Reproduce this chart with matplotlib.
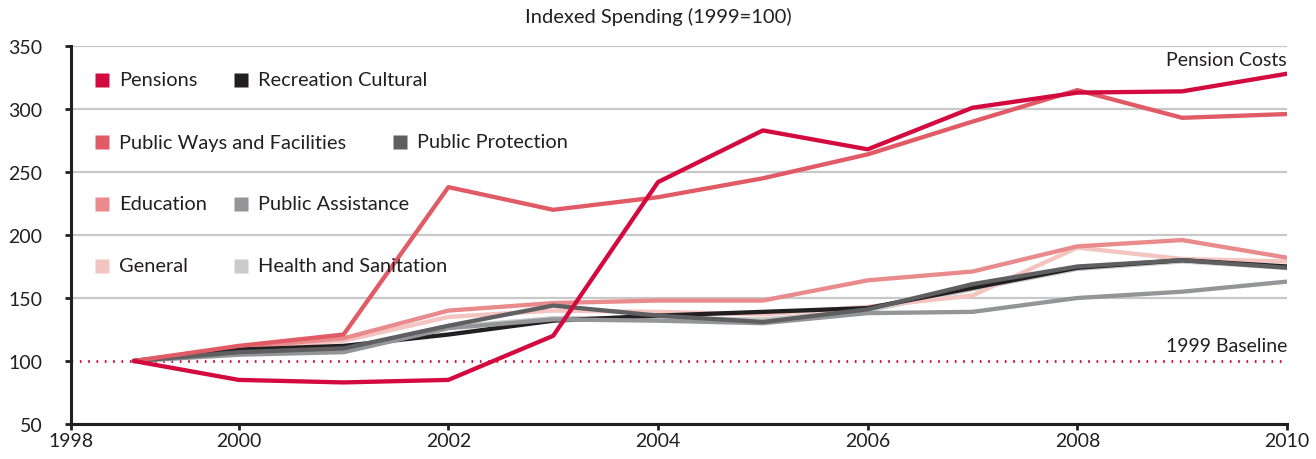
import numpy as np
import matplotlib
matplotlib.use('Agg')
import matplotlib.pyplot as plt

plt.rcParams['font.family'] = ['Lato', 'DejaVu Sans']

# indexed spending, 1999 = 100
years = np.arange(1999, 2011)
pensions = [100, 85, 83, 85, 120, 242, 283, 268, 301, 313, 314, 328]
public_ways = [100, 112, 121, 238, 220, 230, 245, 264, 290, 315, 293, 296]
education = [100, 111, 118, 140, 146, 148, 148, 164, 171, 191, 196, 182]
general = [100, 110, 116, 135, 140, 139, 137, 143, 152, 190, 181, 179]
recreation = [100, 109, 112, 121, 132, 136, 139, 142, 158, 174, 180, 175]
public_protection = [100, 107, 110, 128, 144, 136, 131, 141, 161, 175, 180, 174]
public_assistance = [100, 105, 107, 126, 133, 132, 130, 138, 139, 150, 155, 163]
health = [100, 106, 109, 127, 134, 134, 133, 140, 157, 173, 179, 174]

baseline = 100
ink = '#231F20'

series = [
    ('Pensions', pensions, '#D20A40'),
    ('Public Ways and Facilities', public_ways, '#E05B65'),
    ('Education', education, '#E98B8D'),
    ('General', general, '#F3C4C0'),
    ('Recreation Cultural', recreation, '#231F20'),
    ('Public Protection', public_protection, '#5F5F61'),
    ('Public Assistance', public_assistance, '#949598'),
    ('Health and Sanitation', health, '#CACACB'),
]

fig = plt.figure(figsize=(13.16, 4.6), dpi=100)
ax = fig.add_axes([71/1316, 35/460, 1216/1316, 378/460])

# draw back to front so the reds sit on top
draw_order = ['Health and Sanitation', 'General', 'Education', 'Recreation Cultural',
              'Public Assistance', 'Public Protection', 'Public Ways and Facilities', 'Pensions']
lookup = {name: (vals, col) for name, vals, col in series}
for name in draw_order:
    vals, col = lookup[name]
    ax.plot(years, vals, color=col, lw=3.1, solid_capstyle='round', zorder=3)

ax.axhline(baseline, color='#D20A40', lw=2, ls=(0, (0.6, 2.4)), zorder=2)

ax.set_xlim(1998.4, 2010)
ax.set_ylim(50, 350)
ax.set_yticks(np.arange(50, 351, 50))
ax.set_xticks([1998.4, 2000, 2002, 2004, 2006, 2008, 2010])
ax.set_xticklabels(['1998', '2000', '2002', '2004', '2006', '2008', '2010'])

ax.grid(axis='y', color='#C8C8C8', lw=1.6, zorder=1)
ax.grid(axis='x', visible=False)
ax.get_ygridlines()[1].set_visible(False)
ax.set_axisbelow(True)

for side in ['top', 'right']:
    ax.spines[side].set_visible(False)
for side in ['left', 'bottom']:
    ax.spines[side].set_color(ink)
    ax.spines[side].set_linewidth(2.2)

ax.tick_params(axis='y', direction='out', length=4.5, width=2, color=ink, pad=16,
               labelsize=14, labelcolor=ink)
ax.tick_params(axis='x', direction='out', length=4, width=2, color=ink, pad=2,
               labelsize=14, labelcolor=ink)

fig.text(0.5, 1 - 17/460, 'Indexed Spending (1999=100)', ha='center', va='center',
         fontsize=14.5, color=ink)

ax.text(2010, 339, 'Pension Costs', ha='right', va='center', fontsize=14, color=ink)
ax.text(2010, 112, '1999 Baseline', ha='right', va='center', fontsize=14, color=ink)

# legend laid out by hand: four rows, the second entry of each row set after the first
legend_rows = [
    [('Pensions', 102), ('Recreation Cultural', 241)],
    [('Public Ways and Facilities', 102), ('Public Protection', 400)],
    [('Education', 102), ('Public Assistance', 241)],
    [('General', 102), ('Health and Sanitation', 241)],
]
row_y = [81, 143, 205, 267]
for row, py in zip(legend_rows, row_y):
    for name, px in row:
        col = lookup[name][1]
        xa = (px - 71) / 1216
        ya = (425 - py) / 378
        ax.plot([xa], [ya], marker='s', ms=10.5, color=col, mec='none',
                transform=ax.transAxes, clip_on=False, zorder=5)
        ax.text(xa + 17/1216, ya, name, transform=ax.transAxes, ha='left', va='center',
                fontsize=14.4, color=ink, zorder=5)

fig.savefig('out.png', dpi=100)
